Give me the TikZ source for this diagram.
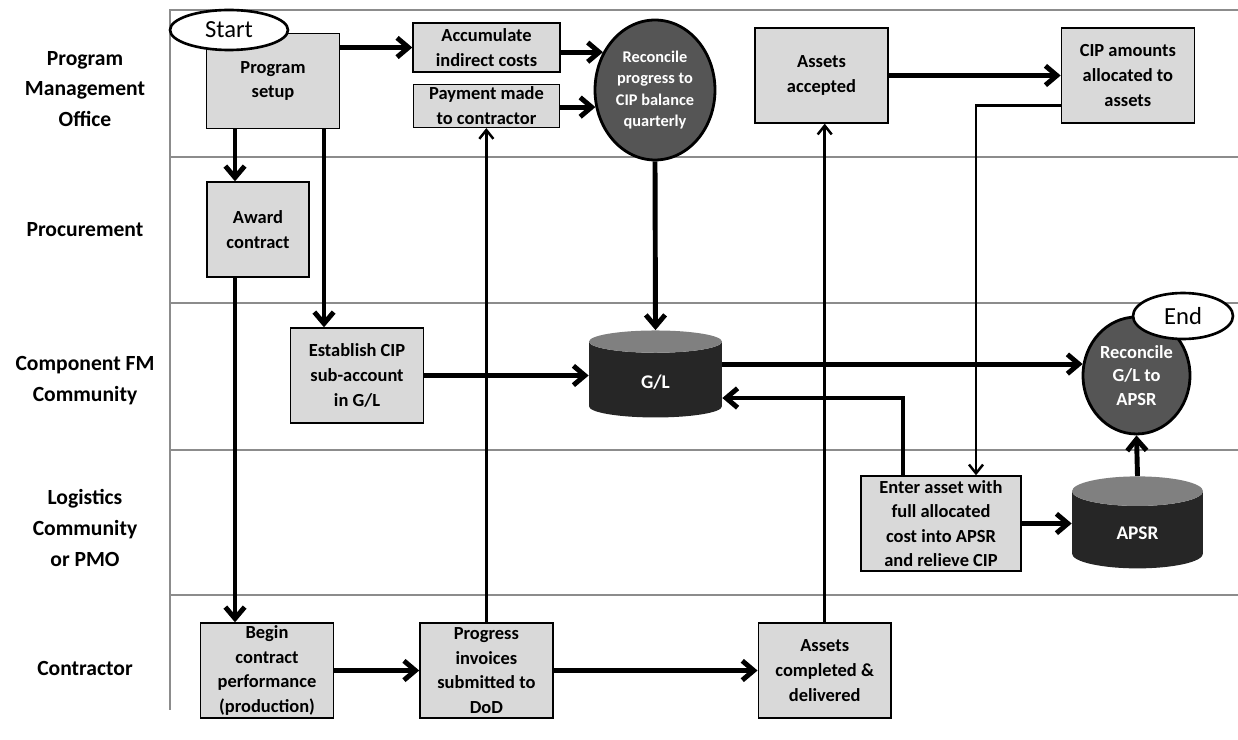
\documentclass[tikz,border=0pt]{standalone}
\usepackage{fontspec}
\setmainfont{Carlito}
\usetikzlibrary{arrows.meta,positioning,shapes.geometric}
\definecolor{boxgray}{HTML}{D9D9D9}
\definecolor{discgray}{HTML}{555555}
\definecolor{cylbody}{HTML}{262626}
\definecolor{cyltop}{HTML}{808080}
\definecolor{lanegray}{HTML}{8C8C8C}
\tikzset{%
    >={Straight Barb[length=6.5pt,width=11pt]},
    task/.style={rectangle,draw,line width=0.8pt,fill=boxgray,align=center,inner sep=1pt,
        font=\fontsize{10.5}{14}\selectfont\bfseries,minimum width=2.66cm,minimum height=1.9cm},
    disc/.style={ellipse,draw,line width=1.6pt,fill=discgray,text=white,align=center,inner sep=0pt},
    store/.style={cylinder,shape border rotate=90,aspect=0.55,cylinder uses custom fill,
        cylinder body fill=cylbody,cylinder end fill=cyltop,draw=none,text=white,
        font=\fontsize{11}{13}\selectfont\bfseries},
    terminal/.style={ellipse,draw,line width=1.5pt,fill=white,inner sep=0pt,
        font=\fontsize{14}{16}\selectfont},
    lane/.style={align=center,font=\fontsize{12.3}{17.6}\selectfont\bfseries},
    flow/.style={->,line width=2.8pt},
    link/.style={-{Straight Barb[length=5pt,width=8pt]},line width=1.4pt},
    sh2w/.style={shift={(-38,0)}},
    sh2e/.style={shift={(35,0)}},
    sh2s/.style={shift={(0,16)}},
    sh2ss/.style={shift={(0,30)}}
}

\begin{document}
\begin{tikzpicture}[x=0.02cm,y=-0.02cm]
    \useasboundingbox (0,0) rectangle (1238,740);
    % lanes
    \draw[lanegray,line width=0.6pt] (1238,10) -- (170,10) -- (170,710);
    \foreach \y in {157,303,450,595}
        \draw[lanegray,line width=0.6pt] (170,\y) -- (1238,\y);
    \node[lane] (l-pmo) at (85,89) {Program\\Management\\Office};
    \node[lane] (l-proc) at (85,230) {Procurement};
    \node[lane] (l-fm) at (85,381) {Component FM\\Community};
    \node[lane] (l-log) at (85,528) {Logistics\\Community\\or PMO};
    \node[lane] (l-con) at (85,668) {Contractor};
    %%%%%
    \coordinate (trunk) at (235,0);
    \coordinate (trunk2) at (324,0);
    \node[task] (setup) at (273,81) {Program\\setup};
    \node[task,minimum width=2.94cm,minimum height=0.98cm] (accum) at (486.5,47.5) {Accumulate\\indirect costs};
    \node[task,minimum width=2.92cm,minimum height=0.86cm,below=0.22cm of accum] (pay) {Payment made\\to contractor};
    \node[disc,minimum width=2.4cm,minimum height=2.8cm,font=\fontsize{9.3}{12.3}\selectfont\bfseries] (recon1) at (655,90)
        {Reconcile\\progress to\\CIP balance\\quarterly};
    \node[task] (acc) at (821.5,75.5) {Assets\\accepted};
    \node[task,right=3.44cm of acc] (cip) {CIP amounts\\allocated to\\assets};
    \node[task,minimum width=2.04cm] (award) at (258,229.5) {Award\\contract};
    \node[task] (est) at (357,375.5) {Establish CIP\\sub-account\\in G/L};
    \node[store,minimum width=2.66cm,minimum height=1.74cm] (GL) at (655.5,382) {G/L};
    \node[disc,minimum width=2.14cm,minimum height=2.34cm,font=\fontsize{10.5}{13.2}\selectfont\bfseries] (recon2) at (1136.5,375.5)
        {Reconcile\\G/L to\\APSR};
    \node[task,minimum width=3.2cm] (enter) at (941,523.5) {Enter asset with\\full allocated\\cost into APSR\\and relieve CIP};
    \node[store,minimum width=2.62cm,minimum height=1.84cm] (APSR) at (1137.5,533) {APSR};
    \node[task] (begin) at (267,670.5) {Begin\\contract\\performance\\(production)};
    \node[task,right=1.7cm of begin] (prog) {Progress\\invoices\\submitted to\\DoD};
    \node[task,right=4.08cm of prog] (done) {Assets\\completed \&\\delivered};
    \node[terminal,minimum width=2.36cm,minimum height=0.8cm] (start) at (229,30) {Start};
    \node[terminal,minimum width=2cm,minimum height=0.92cm] (end) at (1183,316) {End};
    %%%%%
    \draw[flow] (setup.east |- accum.west) -- (accum.west);
    \draw[flow] (accum.east |- recon1.144) -- (recon1.144);
    \draw[flow] (pay.east |- recon1.196) -- (recon1.196);
    \draw[flow] (recon1.south) -- (GL.north);
    \draw[flow] (setup.south -| trunk) -- (award.north -| trunk);
    \draw[flow] (setup.south -| trunk2) -- (est.north -| trunk2);
    \draw[flow] (award.south -| trunk) -- (begin.north -| trunk);
    \draw[flow] (est.east) -- (est.east -| GL.west);
    \draw[flow] (GL.east |- recon2.168) -- (recon2.168);
    \draw[flow] ([sh2w]enter.north) |- ([sh2s]GL.east);
    \draw[flow] (enter.east) -- (enter.east -| APSR.west);
    \draw[flow] (APSR.north) -- (recon2.south);
    \draw[flow] (begin) -- (prog);
    \draw[flow] (prog) -- (done);
    \draw[flow] (acc) -- (cip);
    \draw[link] (prog.north) -- (prog.north |- pay.south);
    \draw[link] (done.north) -- (done.north |- acc.south);
    \draw[link] ([sh2ss]cip.west) -| ([sh2e]enter.north);
\end{tikzpicture}
\end{document}
